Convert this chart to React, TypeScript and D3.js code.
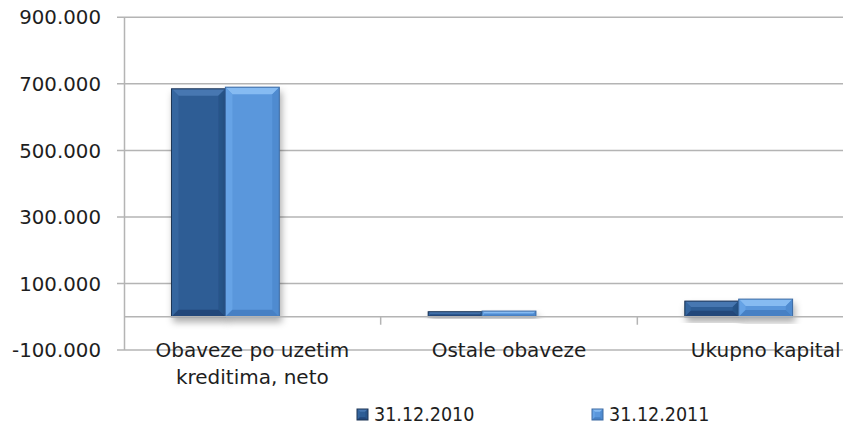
import React from "react";
import * as d3 from "d3";

const categories = ["Obaveze po uzetim kreditima, neto", "Ostale obaveze", "Ukupno kapital"];
const categoryLines = [["Obaveze po uzetim", "kreditima, neto"], ["Ostale obaveze"], ["Ukupno kapital"]];
const seriesNames = ["31.12.2010", "31.12.2011"];
const values2010 = [685, 15, 47];
const values2011 = [690, 17, 53];
const yTicks = [-100, 100, 300, 500, 700, 900];
const yTickLabels = ["-100.000", "100.000", "300.000", "500.000", "700.000", "900.000"];

const W = 843;
const H = 427;

const palettes = [
  { face: "#2d5d95", top: "#4777b1", left: "#35669f", right: "#28548a", bottom: "#21467a", border: "#1c3555" },
  { face: "#5a97dc", top: "#86bbf2", left: "#66a3e6", right: "#4f8bd0", bottom: "#4680c4", border: "#3c6aa2" },
];

function BevelBar({ x, y, w, h, p, filter }: any) {
  const b = Math.max(1, Math.min(7, h / 2.6, w / 4));
  return (
    <g filter={filter}>
      <rect x={x} y={y} width={w} height={h} fill={p.face} />
      <polygon points={`${x},${y} ${x + w},${y} ${x + w - b},${y + b} ${x + b},${y + b}`} fill={p.top} />
      <polygon points={`${x},${y} ${x + b},${y + b} ${x + b},${y + h - b} ${x},${y + h}`} fill={p.left} />
      <polygon points={`${x + w},${y} ${x + w},${y + h} ${x + w - b},${y + h - b} ${x + w - b},${y + b}`} fill={p.right} />
      <polygon points={`${x},${y + h} ${x + b},${y + h - b} ${x + w - b},${y + h - b} ${x + w},${y + h}`} fill={p.bottom} />
      <rect x={x} y={y} width={w} height={h} fill="none" stroke={p.border} strokeWidth={1} />
    </g>
  );
}

export default function App() {
  const y = d3.scaleLinear().domain([-100, 900]).range([350, 17.3]);
  const x = d3.scaleBand<string>().domain(categories).range([124, 894]).padding(0);
  const xSub = d3
    .scaleBand<string>()
    .domain(seriesNames)
    .range([x.bandwidth() * 0.185, x.bandwidth() * 0.605])
    .padding(0);
  const series = [values2010, values2011];
  const gridColor = "#b4b4b4";
  const font = "'DejaVu Sans', sans-serif";
  const y0 = y(0);

  return (
    <svg width={W} height={H} style={{ position: "absolute", left: 0, top: 0, background: "#fff" }}>
      <defs>
        <filter id="shadow" x="-30%" y="-30%" width="170%" height="170%">
          <feDropShadow dx="2" dy="5" stdDeviation="3.5" floodColor="#000" floodOpacity="0.32" />
        </filter>
      </defs>
      {yTicks.map((t) => (
        <line key={t} x1={117} x2={W} y1={y(t)} y2={y(t)} stroke={gridColor} strokeWidth={1.5} />
      ))}
      <line x1={124.5} x2={124.5} y1={y(900)} y2={y(-100)} stroke={gridColor} strokeWidth={1.5} />
      {yTicks.map((t, i) => (
        <text
          key={"l" + t}
          x={101}
          y={y(t)}
          dy="0.36em"
          textAnchor="end"
          fontFamily={font}
          fontSize={19.8}
          fill="#1e1e1e"
        >
          {yTickLabels[i]}
        </text>
      ))}
      {categories.map((c, ci) =>
        seriesNames.map((s, si) => {
          const v = series[si][ci];
          const top = y(v);
          return (
            <BevelBar
              key={c + s}
              x={(x(c) as number) + (xSub(s) as number)}
              y={top}
              w={xSub.bandwidth()}
              h={y0 - top}
              p={palettes[si]}
              filter="url(#shadow)"
            />
          );
        })
      )}
      <line x1={124} x2={W} y1={y0} y2={y0} stroke={gridColor} strokeWidth={1.5} />
      {categories.slice(1).map((c) => (
        <line key={"t" + c} x1={x(c) as number} x2={x(c) as number} y1={y0} y2={y0 + 8} stroke={gridColor} strokeWidth={1.5} />
      ))}
      {categories.map((c, ci) =>
        categoryLines[ci].map((ln, li) => (
          <text
            key={c + li}
            x={(x(c) as number) + x.bandwidth() / 2}
            y={357 + li * 27}
            textAnchor="middle"
            fontFamily={font}
            fontSize={20}
            fill="#1e1e1e"
          >
            {ln}
          </text>
        ))
      )}
      {seriesNames.map((s, si) => {
        const lx = 357 + si * 235;
        return (
          <g key={"lg" + s}>
            <BevelBar x={lx} y={409} w={11} h={11} p={palettes[si]} />
            <text x={lx + 17} y={421} fontFamily="'DejaVu Sans Condensed', 'DejaVu Sans', sans-serif" fontSize={19.5} fill="#1e1e1e">
              {s}
            </text>
          </g>
        );
      })}
    </svg>
  );
}
